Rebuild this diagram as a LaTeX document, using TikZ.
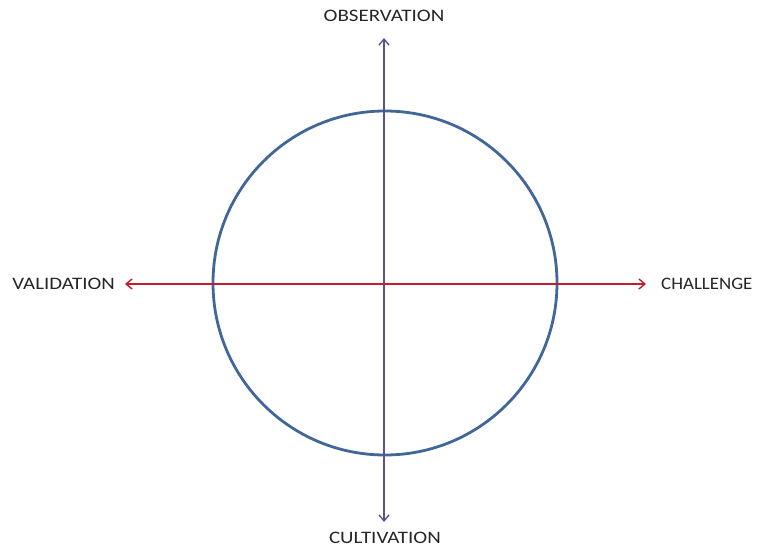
\documentclass[tikz,border=0pt]{standalone}
\usepackage{fontspec}
\setmainfont{Carlito}
\usetikzlibrary{arrows.meta}
\definecolor{circblue}{HTML}{41679A}
\definecolor{axpurple}{HTML}{5E5089}
\definecolor{axred}{HTML}{BE1E2D}
\begin{document}
\begin{tikzpicture}[x=1pt,y=-1pt,
  lbl/.style={font=\fontsize{17.5}{20}\selectfont, text=black!85, inner sep=0pt},
  tip/.tip={Straight Barb[length=6pt,width=10pt,line width=1.4pt]},
  axis/.style={line width=1.8pt, tip-tip}]
\useasboundingbox (0,0) rectangle (759,548);
\coordinate (c) at (385,283);
\draw[circblue, line width=2.8pt] (c) circle (172);
\node[lbl] (obs) at (384,16) {\scalebox{1.2}[1]{OBSERVATION}};
\node[lbl] (cul) at (385,538) {\scalebox{1.2}[1]{CULTIVATION}};
\node[lbl, anchor=east] (val) at (115,284) {\scalebox{1.19}[1]{VALIDATION}};
\node[lbl, anchor=west] (cha) at (661,284) {\scalebox{1.08}[1]{CHALLENGE}};
\coordinate (top) at (384,38);
\coordinate (bot) at (384,522);
\coordinate (lft) at (125,284);
\coordinate (rgt) at (646,284);
\draw[axis, axpurple] (bot) -- (top);
\draw[axis, axred] (lft) -- (rgt);
\end{tikzpicture}
\end{document}
